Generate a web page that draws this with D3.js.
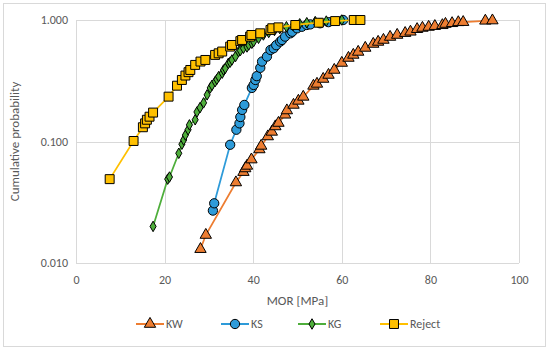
<!DOCTYPE html>
<html>
<head>
<meta charset="utf-8">
<script src="https://cdn.jsdelivr.net/npm/d3@7"></script>
<style>
  body { margin: 0; background: #fff; }
  svg { display: block; font-family: Carlito, Calibri, Lato, sans-serif; }
</style>
</head>
<body>
<svg width="550" height="351"></svg>
<script>
(function(){
	'use strict';

	// MOR [MPa] and cumulative probability
	const kwX = [28.1, 29.3, 36.1, 37.8, 38.2, 38.6, 39.6, 41.4, 41.8, 43.3, 44.2, 45.0, 45.7, 47.2, 47.6,
		49.1, 50.2, 51.3, 53.6, 54.4, 55.8, 57.0, 58.3, 60.0, 61.5, 62.6, 63.7, 65.3, 67.1, 68.2, 69.4,
		70.9, 72.5, 74.3, 75.5, 77.0, 78.2, 79.6, 81.0, 82.7, 83.4, 84.9, 86.3, 87.4, 92.4, 94.0];
	const kwY = [0.013, 0.017, 0.046, 0.056, 0.060, 0.063, 0.071, 0.086, 0.092, 0.110, 0.120, 0.133, 0.142, 0.166, 0.180,
		0.200, 0.216, 0.233, 0.287, 0.298, 0.327, 0.353, 0.388, 0.443, 0.487, 0.516, 0.546, 0.589, 0.635, 0.660, 0.685,
		0.725, 0.753, 0.780, 0.800, 0.840, 0.860, 0.876, 0.890, 0.905, 0.927, 0.940, 0.957, 0.960, 0.985, 0.990];

	const ksX = [30.9, 31.2, 34.8, 36.2, 36.9, 37.1, 37.5, 38.0, 39.7, 40.1, 40.5, 40.8, 41.6, 42.0, 43.1,
		43.9, 44.6, 45.2, 46.1, 46.5, 47.2, 48.4, 48.8, 49.9, 51.0, 52.1, 52.9, 55.1, 57.0, 60.3];
	const ksY = [0.027, 0.031, 0.094, 0.125, 0.141, 0.159, 0.182, 0.200, 0.276, 0.292, 0.321, 0.345, 0.404, 0.455, 0.500,
		0.567, 0.585, 0.620, 0.664, 0.685, 0.730, 0.777, 0.800, 0.854, 0.880, 0.910, 0.920, 0.940, 0.960, 1.000];

	const kgX = [17.4, 20.7, 21.1, 23.2, 23.9, 24.3, 24.7, 25.3, 25.6, 26.9, 27.3, 28.0, 28.8, 29.6, 30.3,
		30.7, 31.4, 31.8, 32.2, 33.0, 33.3, 33.7, 34.4, 34.8, 35.2, 36.0, 36.7, 37.1, 37.8, 38.6, 39.0,
		39.7, 40.1, 41.2, 42.3, 43.5, 44.8, 46.0, 47.5, 49.0, 50.5, 52.1, 54.0, 56.5, 60.0];
	const kgY = [0.020, 0.049, 0.051, 0.080, 0.095, 0.103, 0.113, 0.125, 0.137, 0.151, 0.175, 0.190, 0.208, 0.242, 0.276,
		0.290, 0.311, 0.325, 0.342, 0.365, 0.388, 0.400, 0.440, 0.450, 0.469, 0.500, 0.549, 0.560, 0.585, 0.600, 0.623,
		0.643, 0.664, 0.707, 0.753, 0.790, 0.820, 0.850, 0.880, 0.900, 0.930, 0.950, 0.970, 0.980, 1.000];

	const rejX = [7.6, 13.0, 15.1, 15.6, 16.0, 16.6, 17.4, 20.9, 22.8, 23.9, 24.7, 25.4, 25.8, 26.9, 28.1,
		29.2, 31.4, 32.2, 33.0, 34.8, 35.2, 37.1, 37.5, 39.3, 39.6, 41.6, 43.9, 44.3, 45.7, 49.5, 54.8,
		58.5, 62.7, 64.2];
	const rejY = [0.049, 0.101, 0.131, 0.141, 0.151, 0.160, 0.173, 0.234, 0.288, 0.321, 0.349, 0.372, 0.388, 0.427, 0.455,
		0.469, 0.516, 0.532, 0.550, 0.604, 0.623, 0.670, 0.685, 0.730, 0.753, 0.777, 0.828, 0.855, 0.870, 0.910, 0.950,
		0.980, 1.000, 1.000];

	const xTicks = [0, 20, 40, 60, 80, 100];
	const yTicks = [0.01, 0.1, 1];

	const series = [
		{ name: 'KW', xs: kwX, ys: kwY, color: '#ED7D31', symbol: d3.symbolTriangle, size: 56 },
		{ name: 'KS', xs: ksX, ys: ksY, color: '#2E9BD9', symbol: d3.symbolCircle, size: 68 },
		{ name: 'KG', xs: kgX, ys: kgY, color: '#4EAE3B', symbol: d3.symbolDiamond, size: 32 },
		{ name: 'Reject', xs: rejX, ys: rejY, color: '#FFC000', symbol: d3.symbolSquare, size: 80 }
	];

	const svg = d3.select('svg');
	const margin = { left: 76, right: 31, top: 20, bottom: 88 };
	const width = 550 - margin.left - margin.right;
	const height = 351 - margin.top - margin.bottom;
	const textColor = '#595959';
	const gridColor = '#d9d9d9';

	// outer chart border
	svg.append('rect')
		.attr('x', 3.5).attr('y', 3.5)
		.attr('width', 542).attr('height', 343)
		.attr('fill', '#fff')
		.attr('stroke', gridColor);

	const x = d3.scaleLinear().domain([0, 100]).range([0, width]);
	const y = d3.scaleLog().domain([0.01, 1]).range([height, 0]);

	const g = svg.append('g')
		.attr('transform', `translate(${margin.left}, ${margin.top})`);

	// grid
	g.append('g')
		.selectAll('line')
		.data(xTicks)
		.join('line')
			.attr('x1', d => Math.round(x(d)) + 0.5)
			.attr('x2', d => Math.round(x(d)) + 0.5)
			.attr('y1', 0)
			.attr('y2', height)
			.attr('stroke', gridColor);

	g.append('g')
		.selectAll('line')
		.data(yTicks)
		.join('line')
			.attr('x1', 0)
			.attr('x2', width)
			.attr('y1', d => Math.round(y(d)) + 0.5)
			.attr('y2', d => Math.round(y(d)) + 0.5)
			.attr('stroke', gridColor);

	// axes
	const xAxis = g.append('g')
		.attr('transform', `translate(0, ${height})`)
		.call(d3.axisBottom(x).tickValues(xTicks).tickSize(0).tickPadding(12));

	const yAxis = g.append('g')
		.call(d3.axisLeft(y).tickValues(yTicks).tickFormat(d3.format('.3f')).tickSize(0).tickPadding(8));

	[xAxis, yAxis].forEach(ax => {
		ax.select('.domain').remove();
		ax.selectAll('text')
			.attr('fill', textColor)
			.style('font-size', '12px')
			.style('font-family', 'Carlito, Calibri, Lato, sans-serif');
	});

	// axis titles
	svg.append('text')
		.attr('x', margin.left + width / 2)
		.attr('y', 305)
		.attr('text-anchor', 'middle')
		.attr('fill', textColor)
		.style('font-size', '13px')
		.text('MOR [MPa]');

	svg.append('text')
		.attr('transform', `translate(19, ${margin.top + height / 2}) rotate(-90)`)
		.attr('text-anchor', 'middle')
		.attr('fill', textColor)
		.style('font-size', '13px')
		.text('Cumulative probability');

	// series
	const line = d3.line()
		.x(d => x(d[0]))
		.y(d => y(d[1]));

	series.forEach(s => {
		const pts = s.xs.map((v, i) => [v, s.ys[i]]);
		const sg = g.append('g');
		sg.append('path')
			.datum(pts)
			.attr('d', line)
			.attr('fill', 'none')
			.attr('stroke', s.color)
			.attr('stroke-width', 1.75);
		sg.selectAll('path.pt')
			.data(pts)
			.join('path')
				.attr('class', 'pt')
				.attr('transform', d => `translate(${x(d[0])}, ${y(d[1])})`)
				.attr('d', d3.symbol().type(s.symbol).size(s.size))
				.attr('fill', s.color)
				.attr('stroke', '#000')
				.attr('stroke-width', 1);
	});

	// legend
	const legendX = [150, 235, 312, 394];
	const legendY = 324;
	const legend = svg.append('g');
	series.forEach((s, i) => {
		const lg = legend.append('g')
			.attr('transform', `translate(${legendX[i]}, ${legendY})`);
		lg.append('line')
			.attr('x1', -14).attr('x2', 14)
			.attr('stroke', s.color)
			.attr('stroke-width', 2);
		lg.append('path')
			.attr('d', d3.symbol().type(s.symbol).size(s.size))
			.attr('fill', s.color)
			.attr('stroke', '#000')
			.attr('stroke-width', 1);
		lg.append('text')
			.attr('x', 16)
			.attr('dy', '0.35em')
			.attr('fill', textColor)
			.style('font-size', '12px')
			.text(s.name);
	});
})();
</script>
</body>
</html>
